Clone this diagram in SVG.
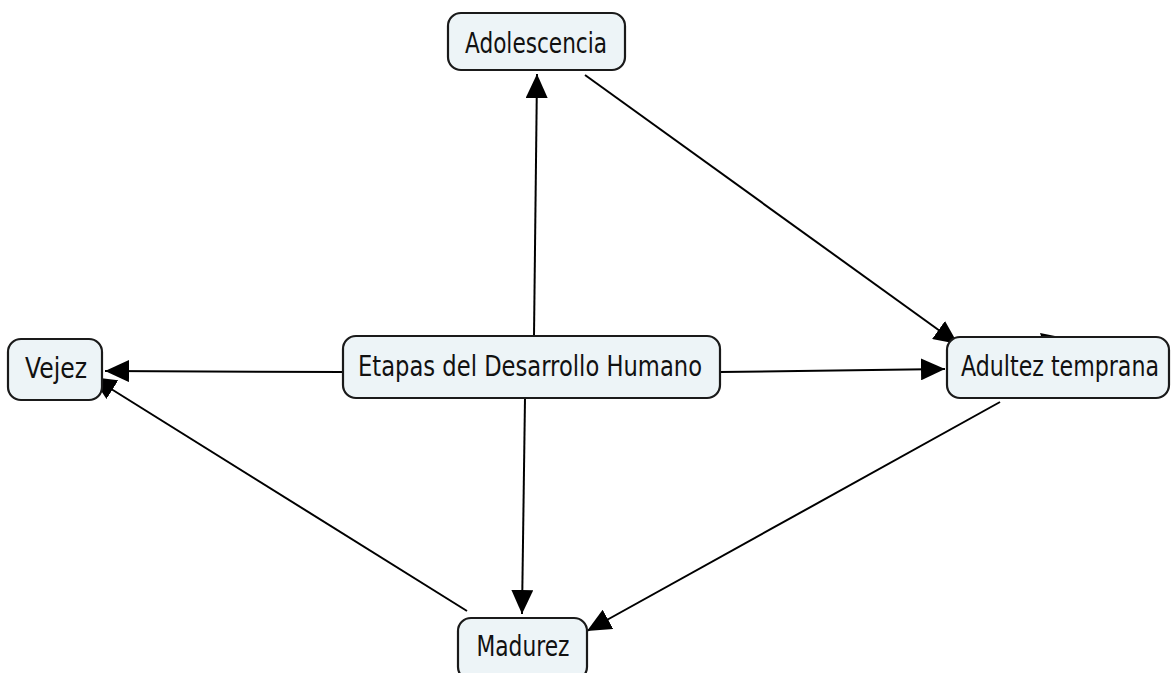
<svg xmlns="http://www.w3.org/2000/svg" width="1172" height="673" viewBox="0 0 1172 673">
<style>
.box{fill:#edf4f7;stroke:#1a1a1a;stroke-width:2.2}
.lbl{font-family:"DejaVu Sans",Verdana,sans-serif;font-size:28px;fill:#111;text-anchor:middle}
.c{stroke:#000;stroke-width:2;fill:none}
</style>
<defs>
<marker id="ah" viewBox="0 0 24 22" refX="24" refY="11" markerWidth="24" markerHeight="22" markerUnits="userSpaceOnUse" orient="auto">
<path d="M0,0 L24,11 L0,22 Z" fill="#000"/>
</marker>
</defs>
<rect width="1172" height="673" fill="#fff"/>
<g id="connectors">
<line class="c" x1="534" y1="336" x2="537" y2="74" marker-end="url(#ah)"/>
<line class="c" x1="585" y1="75" x2="958" y2="344" marker-end="url(#ah)"/>
<line class="c" x1="720" y1="372" x2="945" y2="369" marker-end="url(#ah)"/>
<line class="c" x1="343" y1="372" x2="105" y2="371" marker-end="url(#ah)"/>
<line class="c" x1="525" y1="398" x2="522" y2="614" marker-end="url(#ah)"/>
<line class="c" x1="1000" y1="402" x2="587" y2="631" marker-end="url(#ah)"/>
<line class="c" x1="467" y1="611" x2="92" y2="377" marker-end="url(#ah)"/>
<path d="M1040,333 L1060,337 L1042,339 Z" fill="#000"/>
</g>
<g id="n-adolescencia">
<rect class="box" x="448" y="13" width="177" height="57" rx="13"/>
<text class="lbl" x="536" y="53" textLength="142" lengthAdjust="spacingAndGlyphs">Adolescencia</text>
</g>
<g id="n-vejez">
<rect class="box" x="8" y="339" width="94" height="61" rx="13"/>
<text class="lbl" x="56" y="378" textLength="62" lengthAdjust="spacingAndGlyphs">Vejez</text>
</g>
<g id="n-etapas">
<rect class="box" x="343" y="336" width="377" height="62" rx="13"/>
<text class="lbl" x="530" y="376" textLength="344" lengthAdjust="spacingAndGlyphs">Etapas del Desarrollo Humano</text>
</g>
<g id="n-adultez">
<rect class="box" x="947" y="337" width="222" height="61" rx="13"/>
<text class="lbl" x="1060" y="376" textLength="198" lengthAdjust="spacingAndGlyphs">Adultez temprana</text>
</g>
<g id="n-madurez">
<rect class="box" x="458" y="618" width="129" height="62" rx="13"/>
<text class="lbl" x="523" y="656" textLength="93" lengthAdjust="spacingAndGlyphs">Madurez</text>
</g>
</svg>
